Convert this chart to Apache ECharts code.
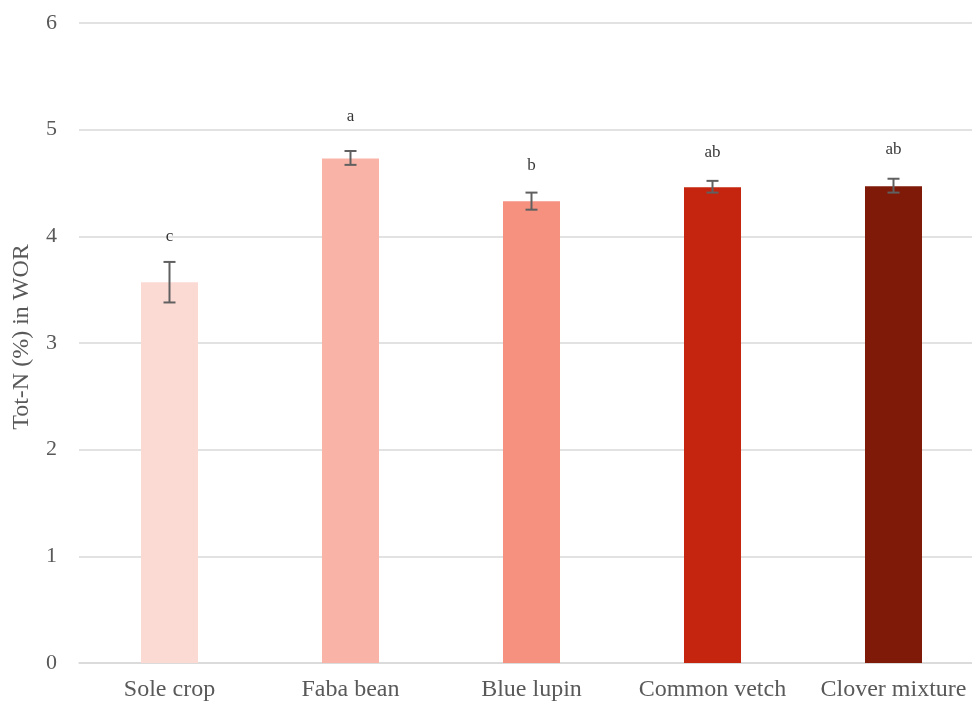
<!DOCTYPE html>
<html>
<head>
<meta charset="utf-8">
<script src="https://cdn.jsdelivr.net/npm/echarts@6/dist/echarts.min.js"></script>
<style>
  html, body { margin: 0; padding: 0; background: #ffffff; overflow: hidden; }
  /* the plot runs slightly past the right edge of the page */
  #chart { width: 984px; height: 702px; }
</style>
</head>
<body>
<div id="chart"></div>
<script>
// Total nitrogen in WOR by intercrop treatment
const categories = ['Sole crop', 'Faba bean', 'Blue lupin', 'Common vetch', 'Clover mixture'];
const totN = [3.57, 4.73, 4.33, 4.46, 4.47];
const errLow = [3.38, 4.67, 4.25, 4.41, 4.41];
const errHigh = [3.76, 4.80, 4.41, 4.52, 4.54];
const letters = ['c', 'a', 'b', 'ab', 'ab'];
const letterY = [4.00, 5.12, 4.66, 4.79, 4.81];
const yTicks = [0, 1, 2, 3, 4, 5, 6];

const barColors = ['#FCDAD4', '#F9B4A7', '#F6917F', '#C5250E', '#7F1A09'];
const serif = '"Liberation Serif", "DejaVu Serif", serif';

const chart = echarts.init(document.getElementById('chart'), null, { renderer: 'canvas' });

chart.setOption({
  animation: false,
  backgroundColor: '#ffffff',
  grid: { left: 79, right: 0, top: 23, bottom: 39, containLabel: false },
  xAxis: {
    type: 'category',
    data: categories,
    axisLine: { show: true, lineStyle: { color: '#D9D9D9', width: 1.5 } },
    axisTick: { show: false },
    axisLabel: { color: '#595959', fontFamily: serif, fontSize: 24, margin: 15, interval: 0 }
  },
  yAxis: {
    type: 'value',
    min: yTicks[0],
    max: yTicks[yTicks.length - 1],
    interval: 1,
    name: 'Tot-N (%) in WOR',
    nameLocation: 'middle',
    nameGap: 45,
    nameTextStyle: { color: '#595959', fontFamily: serif, fontSize: 24, padding: [0, 0, 0, 12] },
    axisLine: { show: false },
    axisTick: { show: false },
    splitLine: { lineStyle: { color: '#D9D9D9', width: 1.5 } },
    axisLabel: { color: '#595959', fontFamily: serif, fontSize: 22, margin: 22 }
  },
  series: [
    {
      type: 'bar',
      barWidth: '31.5%',
      data: totN.map((v, i) => ({ value: v, itemStyle: { color: barColors[i] } })),
      z: 2
    },
    {
      type: 'custom',
      z: 5,
      data: categories.map((c, i) => [i, errLow[i], errHigh[i]]),
      renderItem: function (params, api) {
        const x = api.value(0);
        const lo = api.coord([x, api.value(1)]);
        const hi = api.coord([x, api.value(2)]);
        const half = 6;
        const style = { stroke: '#606060', lineWidth: 2 };
        return {
          type: 'group',
          children: [
            { type: 'line', shape: { x1: lo[0], y1: lo[1], x2: hi[0], y2: hi[1] }, style: style },
            { type: 'line', shape: { x1: hi[0] - half, y1: hi[1], x2: hi[0] + half, y2: hi[1] }, style: style },
            { type: 'line', shape: { x1: lo[0] - half, y1: lo[1], x2: lo[0] + half, y2: lo[1] }, style: style }
          ]
        };
      }
    },
    {
      type: 'scatter',
      symbolSize: 0,
      z: 6,
      data: letters.map((t, i) => ({ value: [i, letterY[i]], name: t })),
      label: {
        show: true,
        position: 'inside',
        formatter: p => p.name,
        color: '#000000',
        fontFamily: serif,
        fontSize: 17
      }
    }
  ]
});
</script>
</body>
</html>
